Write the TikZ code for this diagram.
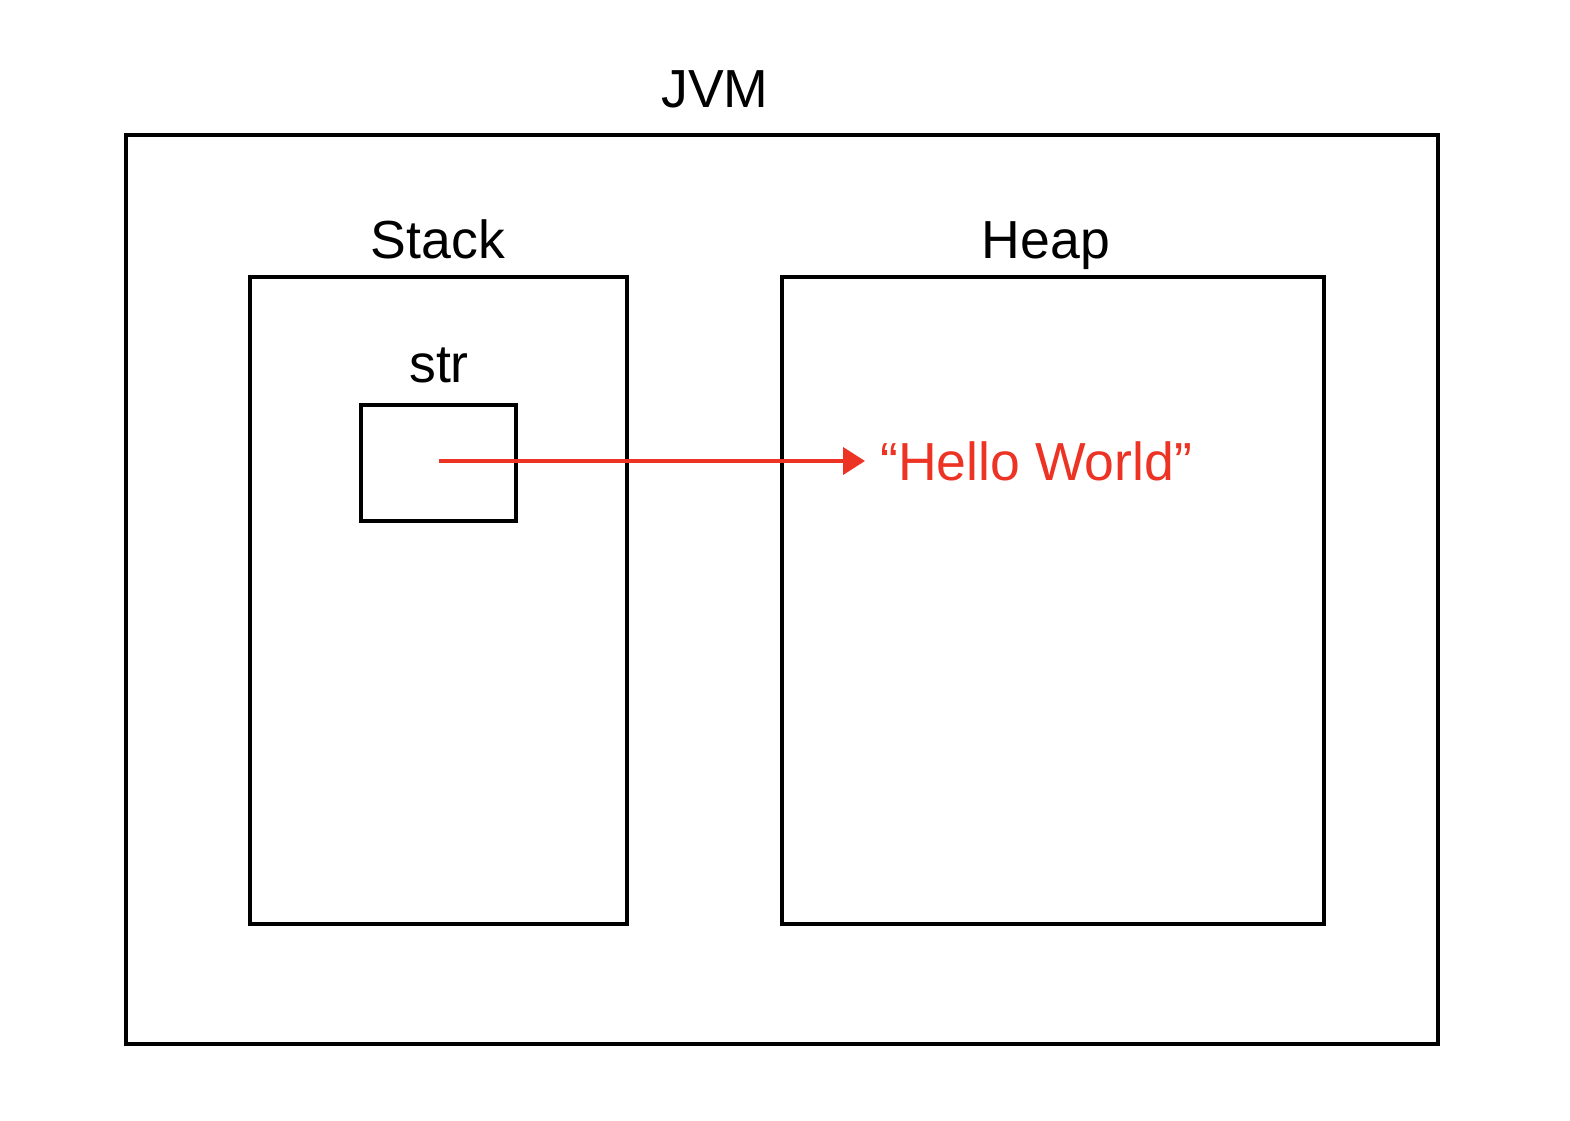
\documentclass[tikz,border=0pt]{standalone}
\usepackage{fontspec}
\setmainfont{Liberation Sans}
\usetikzlibrary{arrows.meta,positioning}
\definecolor{refred}{RGB}{236,51,36}
\begin{document}
\begin{tikzpicture}[x=0.02cm,y=-0.02cm]
\tikzset{
  memblock/.style={rectangle,draw=black,line width=2.3pt,inner sep=0pt},
  memlabel/.style={font=\fontsize{30.5}{36}\selectfont,inner sep=0pt,anchor=base},
  pointer/.style={draw=refred,line width=2.3pt,-{Triangle[length=4.4mm,width=5.4mm]}}
}
\useasboundingbox (0,0) rectangle (1570,1120);
\node[memblock,minimum width=26.24cm,minimum height=18.18cm] (n_jvm) at (782,589.5) {};
\node[memblock,minimum width=7.54cm,minimum height=12.94cm] (n_stack) at (438.5,600.5) {};
\node[memblock,minimum width=10.84cm,minimum height=12.94cm] (n_heap) at (1053,600.5) {};
\node[memblock,minimum width=3.1cm,minimum height=2.32cm] (n_str) at (438.5,463) {};
\node[memlabel] (l_jvm) at (715,107) {JVM};
\node[memlabel] (l_stack) at (438,258) {Stack};
\node[memlabel] (l_heap) at (1046,258) {Heap};
\node[memlabel] (l_str) at (439,382) {str};
\node[memlabel,text=refred,anchor=west,inner xsep=0.3cm] (n_hello) at (865,461) {“Hello World”};
\draw[pointer] (n_str.center |- n_hello.west) -- (n_hello.west);
\end{tikzpicture}
\end{document}
